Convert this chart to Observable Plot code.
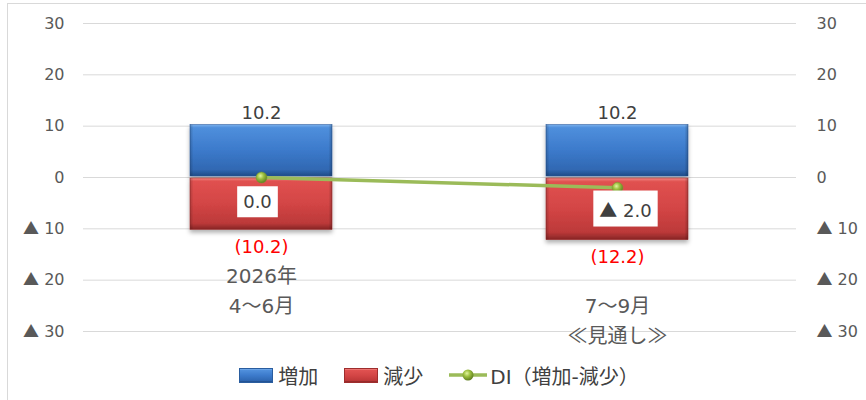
<!DOCTYPE html>
<html>
<head>
<meta charset="utf-8">
<script src="https://cdn.jsdelivr.net/npm/d3@7"></script>
<script src="https://cdn.jsdelivr.net/npm/@observablehq/plot@0.6"></script>
<style>
  html, body { margin: 0; padding: 0; background: #fff; }
  #wrap { position: relative; width: 866px; height: 400px; overflow: hidden;
          font-family: "DejaVu Sans", "Noto Sans CJK JP", sans-serif; }
  #frame { position: absolute; left: 7px; top: 3px; width: 900px; height: 450px;
           border: 1px solid #d9d9d9; box-sizing: border-box; }
  #chart { position: absolute; left: 0; top: 0; }
  #legend { position: absolute; left: 0; top: 363px; width: 866px; height: 24px;
            display: flex; justify-content: center; align-items: center;
            font-size: 20px; color: #404040; padding-left: 12px; box-sizing: border-box; }
  .item { display: flex; align-items: center; margin: 0 13px; }
  .sw { width: 34px; height: 15px; box-sizing: border-box; margin-right: 5px; }
  .sw.blue { background: linear-gradient(#7ab0ec 0%, #4f8fdc 10%, #3c7acb 50%, #2f68b3 88%, #1f4a86 100%); border: 1px solid #2a5d9f; }
  .sw.red { background: linear-gradient(#f28a86 0%, #e05150 10%, #d34545 50%, #bf3939 88%, #862525 100%); border: 1px solid #9e2d2d; }
</style>
</head>
<body>
<div id="wrap">
  <div id="frame"></div>
  <div id="chart"></div>
  <div id="legend"></div>
</div>
<script>
// ---- data ----
const categories = ["2026年4〜6月", "7〜9月見通し"];
const categoryLabels = ["2026年\n4〜6月\n", "7〜9月\n≪見通し≫"];
const increase = [10.2, 10.2];
const decrease = [10.2, 12.2];
const di = [0.0, -2.0];
const yTicks = [-30, -20, -10, 0, 10, 20, 30];
const seriesNames = ["増加", "減少", "DI（増加-減少）"];

const rows = categories.map((c, i) => ({
  cat: c, label: categoryLabels[i], inc: increase[i], dec: decrease[i], di: di[i]
}));

const tickFmt = v => v < 0 ? "▲ " + (-v) : String(v);
const valFmt = v => v < 0 ? "▲ " + (-v).toFixed(1) : v.toFixed(1);

const font = "DejaVu Sans, Noto Sans CJK JP, sans-serif";

const plot = Plot.plot({
  width: 866,
  height: 355,
  marginTop: 23,
  marginBottom: 24,
  marginLeft: 83,
  marginRight: 70,
  style: { fontFamily: font, overflow: "visible", background: "transparent" },
  x: { domain: categories, paddingInner: 0.6, paddingOuter: 0.3, axis: null },
  y: { domain: [-30, 30], axis: null },
  marks: [
    Plot.gridY(yTicks, { stroke: "#d9d9d9", strokeOpacity: 1, strokeWidth: 1 }),
    Plot.axisY(yTicks, { anchor: "left", tickSize: 0, tickPadding: 19, tickFormat: tickFmt,
      fontSize: 16, fill: "#595959", label: null }),
    Plot.axisY(yTicks, { anchor: "right", tickSize: 0, tickPadding: 20, tickFormat: tickFmt,
      fontSize: 16, fill: "#595959", label: null }),
    // bars (first two bar marks get the drop shadow)
    Plot.barY(rows, { x: "cat", y1: 0, y2: "inc", fill: "url(#gBlue)", stroke: "#2a5d9f", strokeWidth: 0.6, insetBottom: 1 }),
    Plot.barY(rows, { x: "cat", y1: 0, y2: d => -d.dec, fill: "url(#gRed)", stroke: "#9e2d2d", strokeWidth: 0.6, insetTop: 1 }),
    Plot.barY(rows, { x: "cat", y1: 0, y2: "inc", fill: "url(#gSide)", insetBottom: 1 }),
    Plot.barY(rows, { x: "cat", y1: 0, y2: d => -d.dec, fill: "url(#gSide)", insetTop: 1 }),
    // value labels
    Plot.text(rows, { x: "cat", y: "inc", text: d => valFmt(d.inc), lineAnchor: "bottom", dy: -6,
      fontSize: 18, fill: "#404040" }),
    Plot.text(rows, { x: "cat", y: d => -d.dec, text: d => "(" + d.dec.toFixed(1) + ")", lineAnchor: "bottom", dy: 23,
      fontSize: 18, fill: "#ff0000" }),
    // category labels
    Plot.text(rows, { x: "cat", text: "label", frameAnchor: "bottom", lineAnchor: "bottom", dy: 11,
      lineHeight: 1.5, fontSize: 20, fill: "#595959" }),
    // DI line
    Plot.line(rows, { x: "cat", y: "di", stroke: "#9bbb59", strokeWidth: 3.5 }),
    Plot.dot(rows, { x: "cat", y: "di", r: 5.5, fill: "url(#gDot)", stroke: "#7a9a30", strokeWidth: 0.5 }),
    Plot.text(rows.slice(0, 1), { x: "cat", y: "di", text: d => valFmt(d.di), dx: -4, dy: 25,
      fontSize: 18, fill: "#404040" }),
    Plot.text(rows.slice(1, 2), { x: "cat", y: "di", text: d => valFmt(d.di), dx: 8, dy: 23,
      fontSize: 18, fill: "#404040" })
  ]
});

document.getElementById("chart").appendChild(plot);

// render full-width symbols (▲ ≪ ≫) with the CJK font, as in the original
const cjkChars = /[▲≪≫]/;
function wrapCJK(el) {
  Array.from(el.childNodes).forEach(n => {
    if (n.nodeType === 3) {
      const s = n.nodeValue;
      if (!cjkChars.test(s)) return;
      const frag = document.createDocumentFragment();
      let buf = "";
      for (const ch of s) {
        if (cjkChars.test(ch)) {
          if (buf) { frag.appendChild(document.createTextNode(buf)); buf = ""; }
          const t = document.createElementNS("http://www.w3.org/2000/svg", "tspan");
          t.setAttribute("font-family", "Noto Sans CJK JP");
          t.textContent = ch;
          frag.appendChild(t);
        } else buf += ch;
      }
      if (buf) frag.appendChild(document.createTextNode(buf));
      el.replaceChild(frag, n);
    } else if (n.nodeType === 1) {
      wrapCJK(n);
    }
  });
}
plot.querySelectorAll("text").forEach(wrapCJK);

// gradients & effects
const svg = d3.select(plot);
const defs = svg.insert("defs", ":first-child");
function vgrad(id, stops) {
  const g = defs.append("linearGradient").attr("id", id).attr("x1", 0).attr("y1", 0).attr("x2", 0).attr("y2", 1);
  stops.forEach(([o, c]) => g.append("stop").attr("offset", o).attr("stop-color", c));
}
vgrad("gBlue", [["0%", "#7ab0ec"], ["6%", "#4f8fdc"], ["50%", "#3c7acb"], ["88%", "#3068b2"], ["100%", "#1f4a86"]]);
vgrad("gRed", [["0%", "#f28a86"], ["6%", "#e05150"], ["50%", "#d34545"], ["88%", "#bc3939"], ["100%", "#862525"]]);
const side = defs.append("linearGradient").attr("id", "gSide").attr("x1", 0).attr("y1", 0).attr("x2", 1).attr("y2", 0);
[["0%", 0.18], ["2.5%", 0], ["97.5%", 0], ["100%", 0.22]]
  .forEach(([o, op]) => side.append("stop").attr("offset", o).attr("stop-color", "#000").attr("stop-opacity", op));
const rg = defs.append("radialGradient").attr("id", "gDot").attr("cx", "40%").attr("cy", "35%").attr("r", "65%");
[["0%", "#e2f5a0"], ["45%", "#9dc040"], ["100%", "#5f7f20"]]
  .forEach(([o, c]) => rg.append("stop").attr("offset", o).attr("stop-color", c));
const f = defs.append("filter").attr("id", "shadow").attr("x", "-10%").attr("y", "-10%").attr("width", "120%").attr("height", "130%");
f.append("feDropShadow").attr("dx", 0).attr("dy", 3).attr("stdDeviation", 2).attr("flood-color", "#000").attr("flood-opacity", 0.3);

const barGroups = svg.selectAll('g[aria-label="bar"]').nodes();
barGroups.slice(0, 2).forEach(g => g.setAttribute("filter", "url(#shadow)"));

// white boxes behind DI labels (last two text marks)
const textGroups = svg.selectAll('g[aria-label="text"]').nodes();
textGroups.slice(-2).forEach(g => {
  d3.select(g).selectAll(":scope > text").each(function () {
    const b = this.getBBox();
    const padX = 6, padY = 6;
    const r = document.createElementNS("http://www.w3.org/2000/svg", "rect");
    r.setAttribute("x", b.x - padX);
    r.setAttribute("y", b.y - padY + 1);
    r.setAttribute("width", b.width + 2 * padX);
    r.setAttribute("height", b.height + 2 * padY - 2);
    r.setAttribute("fill", "#fff");
    const t = this.getAttribute("transform");
    if (t) r.setAttribute("transform", t);
    this.parentNode.insertBefore(r, this);
  });
});

// legend
const legend = d3.select("#legend");
const it1 = legend.append("div").attr("class", "item");
it1.append("div").attr("class", "sw blue");
it1.append("span").text(seriesNames[0]);
const it2 = legend.append("div").attr("class", "item");
it2.append("div").attr("class", "sw red");
it2.append("span").text(seriesNames[1]);
const it3 = legend.append("div").attr("class", "item");
it3.node().insertAdjacentHTML("beforeend",
  '<svg width="38" height="16" style="margin-right:3px"><defs><radialGradient id="gDotL" cx="40%" cy="35%" r="65%"><stop offset="0%" stop-color="#e2f5a0"/><stop offset="45%" stop-color="#9dc040"/><stop offset="100%" stop-color="#5f7f20"/></radialGradient></defs><line x1="0" x2="38" y1="8" y2="8" stroke="#9bbb59" stroke-width="3.5"/><circle cx="19" cy="8" r="5.5" fill="url(#gDotL)"/></svg>');
it3.append("span").text(seriesNames[2]);
</script>
</body>
</html>
